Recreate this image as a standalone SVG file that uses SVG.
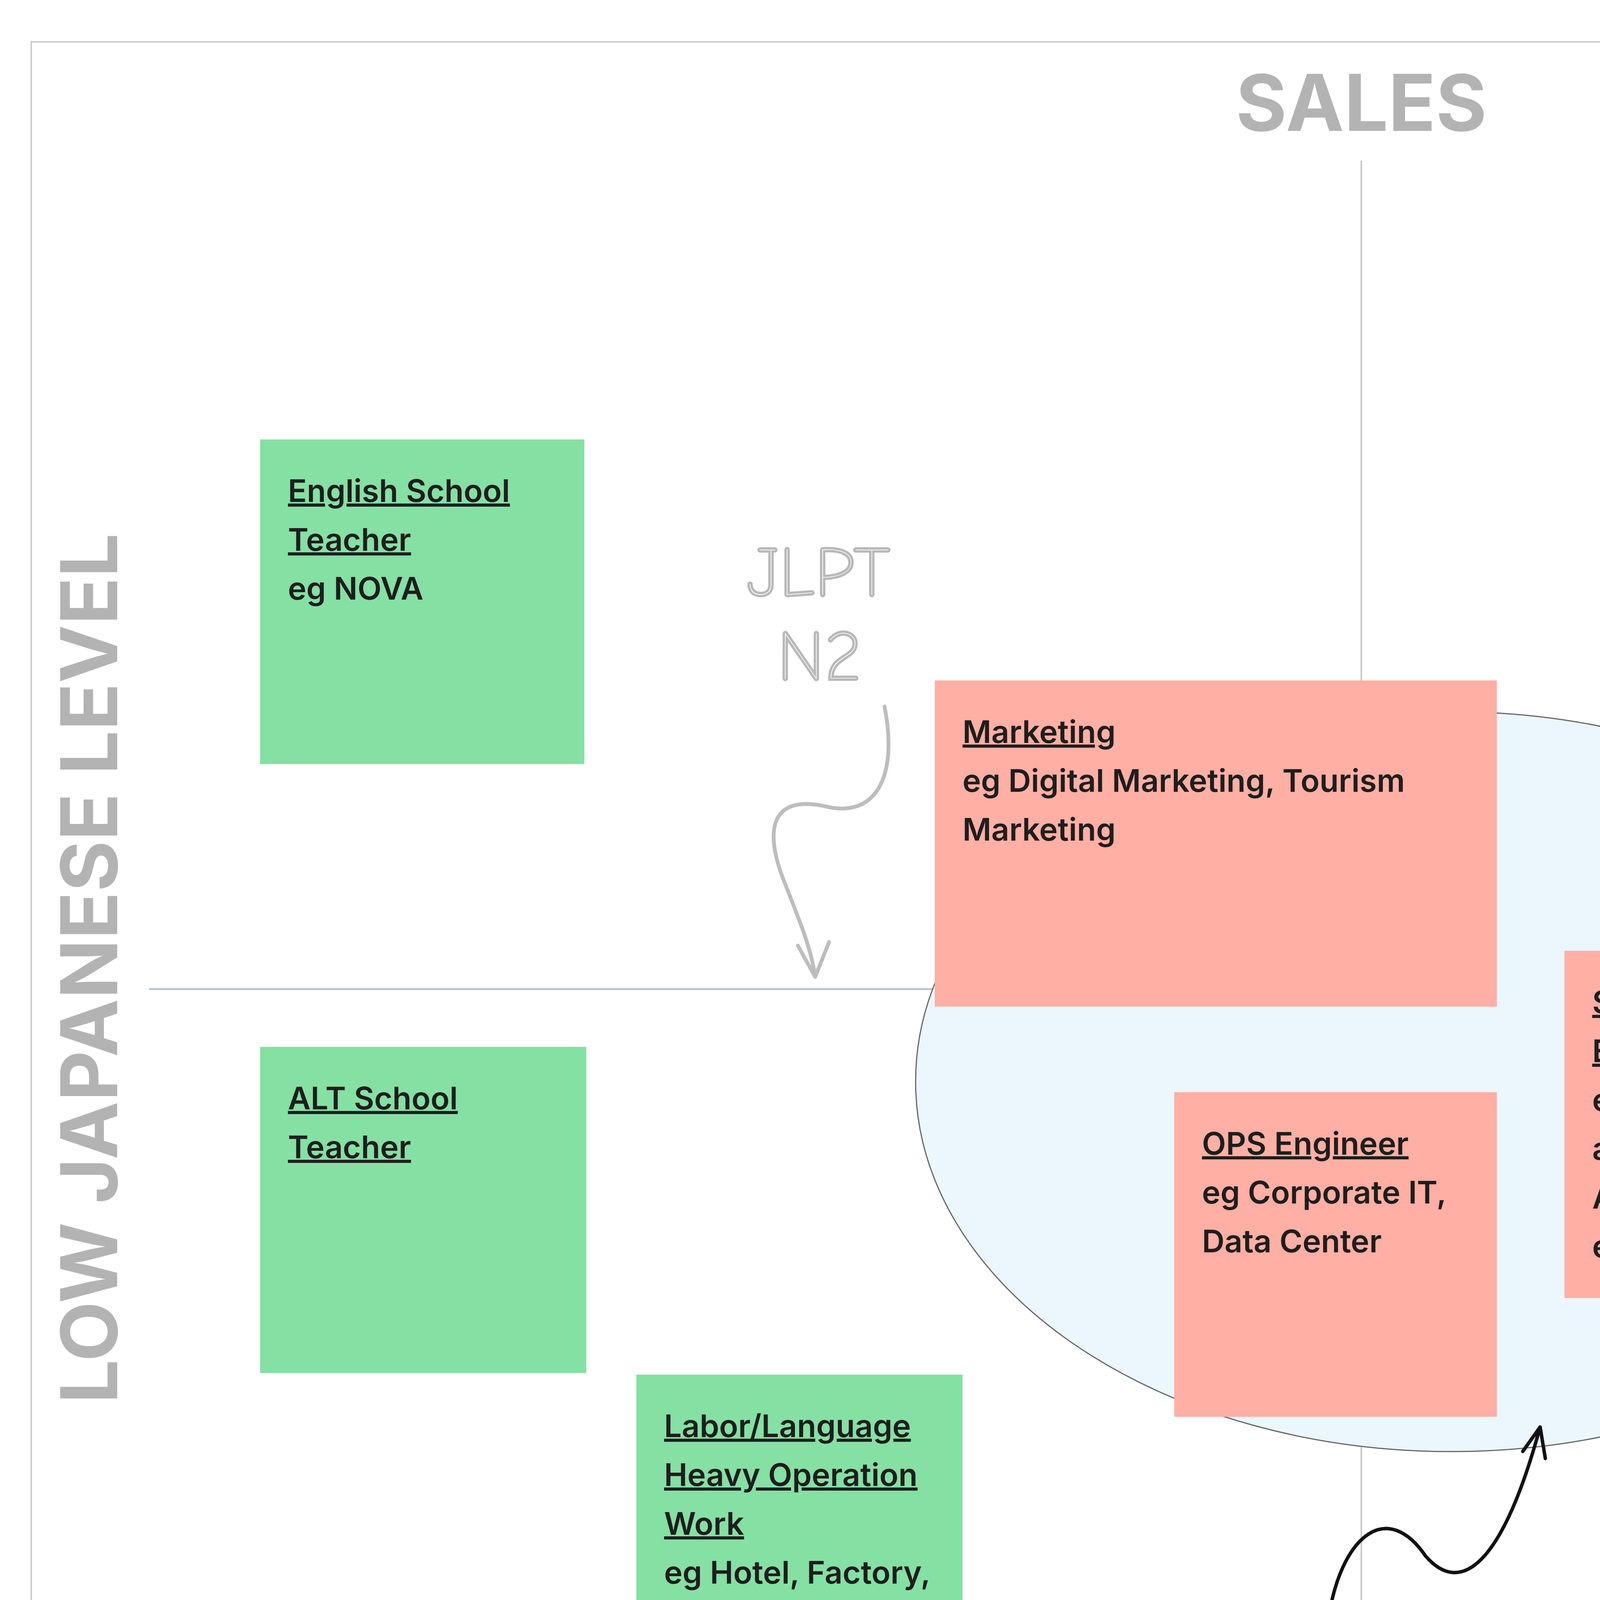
<svg xmlns="http://www.w3.org/2000/svg" width="6961" height="4926" viewBox="0 0 6961 4926">
<style>
.axis{font-family:Inter,"Liberation Sans",sans-serif;font-weight:700;font-size:200px;fill:#b3b3b3}
.note text{font-family:Inter,"Liberation Sans",sans-serif;font-weight:600;font-size:80px;fill:#1e1e1e}
.u{text-decoration:underline}
.g{fill:#85e0a3}
.r{fill:#ffafa3}
.hand{font-family:"Comic Neue","DejaVu Sans",cursive;font-weight:300}
</style>
<rect x="0" y="0" width="6961" height="4926" fill="#fff"/>
<rect x="80" y="107" width="6811" height="4739" fill="none" stroke="#cccccc" stroke-width="4"/>
<g id="axes">
<line x1="3485" y1="411" x2="3485" y2="4546" stroke="#c8c8c8" stroke-width="4"/>
<line x1="382" y1="2532" x2="2398" y2="2532" stroke="#b8c4d4" stroke-width="5"/>
<text class="axis" x="3485" y="335" text-anchor="middle">SALES</text>
<text class="axis" x="3485" y="4752" text-anchor="middle">OPERATION</text>
<text class="axis" transform="translate(300,2479) rotate(-90)" text-anchor="middle">LOW JAPANESE LEVEL</text>
<text class="axis" transform="translate(6670,2479) rotate(90)" text-anchor="middle">HIGH JAPANESE LEVEL</text>
</g>
<g id="zones">
<ellipse cx="5417" cy="1215" rx="1052" ry="956" fill="#ffc9d4" stroke="#999" stroke-width="2"/>
<ellipse cx="3716" cy="2769" rx="1372" ry="947" fill="#ebf7fd" stroke="#666" stroke-width="3"/>
</g>
<g id="english" class="note"><rect class="g" x="666" y="1125" width="830" height="831"/><text x="737" y="1285"><tspan class="u">English School</tspan><tspan x="737" dy="125" class="u">Teacher</tspan><tspan x="737" dy="125">eg NOVA</tspan></text></g>
<g id="alt" class="note"><rect class="g" x="666" y="2680" width="835" height="835"/><text x="737" y="2840"><tspan class="u">ALT School</tspan><tspan x="737" dy="125" class="u">Teacher</tspan></text></g>
<g id="labor" class="note"><rect class="g" x="1629" y="3519" width="835" height="835"/><text x="1700" y="3679"><tspan class="u">Labor/Language</tspan><tspan x="1700" dy="125" class="u">Heavy Operation</tspan><tspan x="1700" dy="125" class="u">Work</tspan><tspan x="1700" dy="125">eg Hotel, Factory,</tspan><tspan x="1700" dy="125">Call Center...</tspan></text></g>
<g id="marketing" class="note"><rect class="r" x="2393" y="1742" width="1439" height="835"/><text x="2464" y="1902"><tspan class="u">Marketing</tspan><tspan x="2464" dy="125">eg Digital Marketing, Tourism</tspan><tspan x="2464" dy="125">Marketing</tspan></text></g>
<g id="ops" class="note"><rect class="r" x="3006" y="2796" width="826" height="831"/><text x="3077" y="2956"><tspan class="u">OPS Engineer</tspan><tspan x="3077" dy="125">eg Corporate IT,</tspan><tspan x="3077" dy="125">Data Center</tspan></text></g>
<g id="solution" class="note"><rect class="r" x="4005" y="2434" width="830" height="889"/><text x="4076" y="2594"><tspan class="u">Solution</tspan><tspan x="4076" dy="125" class="u">Engineer</tspan><tspan x="4076" dy="125">eg AWS solution</tspan><tspan x="4076" dy="125">architect,</tspan><tspan x="4076" dy="125">Accenture</tspan><tspan x="4076" dy="125">engineer</tspan></text></g>
<g id="b2b-invest" class="note"><rect class="g" x="4737" y="1157" width="830" height="840"/><text x="4808" y="1317"><tspan class="u">B2B Sales</tspan><tspan x="4808" dy="125">eg Investment</tspan><tspan x="4808" dy="125">Banking, MBB</tspan><tspan x="4808" dy="125">Consulting</tspan></text></g>
<g id="b2b-jp" class="note"><rect class="g" x="5643" y="536" width="830" height="835"/><text x="5714" y="696"><tspan class="u">B2B Sales</tspan><tspan x="5714" dy="125">eg Japanese</tspan><tspan x="5714" dy="125">Trading</tspan><tspan x="5714" dy="125">Company</tspan></text></g>
<g id="labels">
<text class="hand" x="2096" y="1525" text-anchor="middle" font-size="180" fill="none" stroke="#b8b8b8" stroke-width="6">JLPT</text>
<text class="hand" x="2096" y="1740" text-anchor="middle" font-size="180" fill="none" stroke="#b8b8b8" stroke-width="6">N2</text>
<text class="hand" x="4995" y="2568" font-size="245" fill="#111">Business Sales!</text>
<text class="hand" x="3561" y="4310" font-size="270" fill="#111">The sweet spot!</text>
<polygon points="4720,3390 4737,3435 4785,3437 4748,3465 4761,3512 4720,3485 4679,3512 4692,3465 4655,3437 4703,3435" fill="#ffc94d"/>
<text class="hand" x="4849" y="3492" font-size="120" fill="#c933b8">Why is this the sweet spot?</text>
<g font-family="Inter,'Liberation Sans',sans-serif" font-size="62" fill="#111">
<text x="4707" y="3633">While ALL job require Japanese skill, at this level you</text>
<text x="4707" y="3729">can communicate without worry about the nitty gritty</text>
<text x="4707" y="3825">detail in Japanese language. As long as the meaning is</text>
<text x="4707" y="3921">delivered, you are fine.</text>
</g>
</g>
<g id="connectors" fill="none" stroke-linecap="round" stroke-linejoin="round" transform="scale(4.44,4.466)">
<path d="M510,405 C518,445 505,470 475,462 C440,455 443,482 452,505 C462,530 468,545 470,560 M460,542 L470,560 L478,540" stroke="#bdbdbd" stroke-width="2.2"/>
<path d="M1250,527 C1282,508 1255,500 1266,490 C1276,478 1262,470 1248,465 M1246,478 L1248,465 L1258,472" stroke="#111" stroke-width="1.8"/>
<path d="M767,922 C775,880 800,860 822,892 C842,915 866,898 888,818 M878,832 L888,818 L891,836" stroke="#111" stroke-width="2"/>
</g>
</svg>
